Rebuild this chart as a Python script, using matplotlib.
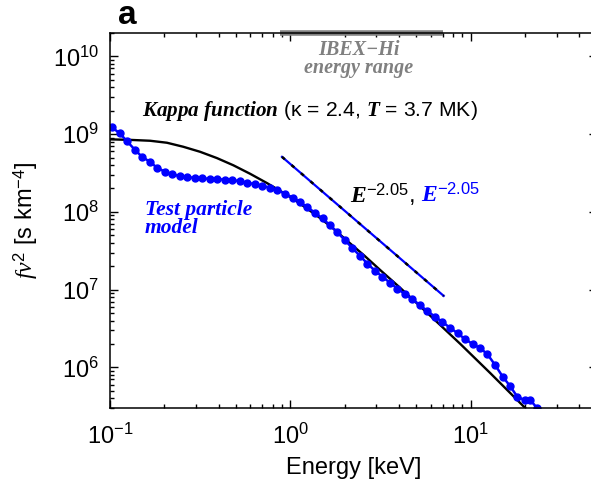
import numpy as np
import matplotlib
matplotlib.use('Agg')
import matplotlib.pyplot as plt
from matplotlib.ticker import FuncFormatter, LogLocator, NullFormatter
import matplotlib.transforms as mtransforms

plt.rcParams['font.family'] = ['Liberation Sans', 'DejaVu Sans']
plt.rcParams['mathtext.fontset'] = 'custom'
plt.rcParams['mathtext.rm'] = 'Liberation Sans'
plt.rcParams['mathtext.it'] = 'Liberation Serif:italic'
plt.rcParams['mathtext.bf'] = 'Liberation Serif:italic:bold'

# Kappa function (black)
kappa_E = [0.1, 0.129, 0.167, 0.207, 0.255, 0.316, 0.392, 0.484, 0.599, 0.742, 0.88,
           1.05, 1.24, 1.47, 1.74, 2.10, 2.58, 3.16, 4.08, 5.27, 6.81, 8.8, 12.9, 20.2, 24.5]
kappa_f = [8.57e8, 8.44e8, 8.22e8, 7.75e8, 6.88e8, 5.93e8, 4.92e8, 3.97e8, 3.09e8, 2.35e8, 1.86e8,
           1.44e8, 1.10e8, 8.27e7, 6.04e7, 4.12e7, 2.73e7, 1.78e7, 1.05e7, 6.06e6, 3.48e6, 1.99e6,
           8.39e5, 2.97e5, 1.89e5]

# test particle model (blue dots)
tp_E = [0.1026, 0.113, 0.124, 0.137, 0.151, 0.166, 0.182, 0.201, 0.221, 0.243,
        0.268, 0.295, 0.324, 0.357, 0.393, 0.432, 0.476, 0.524, 0.577, 0.635,
        0.699, 0.769, 0.847, 0.932, 1.03, 1.13, 1.24, 1.37, 1.51, 1.66,
        1.82, 2.01, 2.21, 2.43, 2.68, 2.95, 3.24, 3.57, 3.93, 4.33,
        4.76, 5.24, 5.77, 6.35, 6.99, 7.69, 8.47, 9.32, 10.3, 11.3,
        12.4, 13.7, 15.1, 16.6, 18.2, 20.1, 21.5, 23.5]
tp_f = [1.22e9, 1.03e9, 8.15e8, 6.34e8, 5.07e8, 4.44e8, 3.71e8, 3.30e8, 3.05e8, 2.89e8,
        2.80e8, 2.74e8, 2.69e8, 2.67e8, 2.64e8, 2.60e8, 2.56e8, 2.49e8, 2.37e8, 2.28e8,
        2.17e8, 2.05e8, 1.91e8, 1.72e8, 1.53e8, 1.34e8, 1.15e8, 9.79e7, 8.22e7, 6.76e7,
        5.49e7, 4.33e7, 3.42e7, 2.74e7, 2.16e7, 1.75e7, 1.47e7, 1.23e7, 1.03e7, 8.75e6,
        7.54e6, 6.31e6, 5.28e6, 4.49e6, 3.82e6, 3.24e6, 2.75e6, 2.31e6, 1.99e6, 1.77e6,
        1.48e6, 1.07e6, 7.58e5, 5.72e5, 4.17e5, 3.78e5, 3.78e5, 2.96e5]

# power-law fit lines (endpoints)
fit_E = [0.9, 7.1]
fit_f = [5.1e8, 8.3e6]

ibex_range = [0.88, 7.08]

fig = plt.figure(figsize=(5.91, 4.84), dpi=100)
ax = fig.add_axes([110/591, 76/484, 486.5/591, 375/484])

ax.plot(kappa_E, kappa_f, color='black', lw=1.7)
ax.plot(tp_E, tp_f, color='blue', lw=1.8, marker='o', ms=5, mec='blue', mfc='blue')
ax.plot(fit_E, fit_f, color='blue', lw=1.6)
ax.plot(fit_E, fit_f, color='black', lw=1.8, ls=(0, (1.5, 3.5)))

ax.set_xscale('log')
ax.set_yscale('log')
ax.set_xlim(0.1, 50)
ax.set_ylim(3e5, 2e10)

fmt = FuncFormatter(lambda v, p: r'$\mathrm{10^{%d}}$' % round(np.log10(v)))
ax.xaxis.set_major_formatter(fmt)
ax.yaxis.set_major_formatter(fmt)
ax.yaxis.set_major_locator(LogLocator(base=10, numticks=20))
ax.yaxis.set_minor_locator(LogLocator(base=10, subs=np.arange(2, 10), numticks=20))
ax.yaxis.set_minor_formatter(NullFormatter())
ax.xaxis.set_minor_formatter(NullFormatter())
ax.tick_params(which='both', direction='in', top=True, right=True, width=1)
ax.tick_params(which='major', length=6, labelsize=17)
ax.tick_params(axis='x', which='major', pad=11)
ax.tick_params(axis='y', which='major', pad=8)
ax.tick_params(which='minor', length=3)
for s in ax.spines.values():
    s.set_linewidth(1.1)

ax.set_xlabel('Energy [keV]', fontsize=17, labelpad=6)
ax.set_ylabel(r'$fv^{\mathrm{2}}$ [s km$^{-4}$]', fontsize=17, labelpad=9)

# IBEX-Hi energy range bar on the top axis
trans = mtransforms.blended_transform_factory(ax.transData, ax.transAxes)
ax.plot(ibex_range, [1, 1], color='gray', lw=4, transform=trans, clip_on=False, solid_capstyle='butt')


def px(x, y):
    return x / 591, 1 - y / 484


fig.text(*px(118, 15), 'a', fontsize=24, fontweight='bold', va='center', ha='left')
fig.text(*px(359, 59), 'IBEX\u2212Hi\nenergy range', fontsize=14.5, color='gray',
         family='Liberation Serif', style='italic', weight='bold',
         ha='center', va='center', multialignment='center', linespacing=0.9)
fig.text(*px(142, 111), r'$\mathbf{Kappa\ function}$ (κ = 2.4, $\mathbf{T}$ = 3.7 MK)',
         fontsize=15.2, ha='left', va='center')
fig.text(*px(145, 219), 'Test particle\nmodel', fontsize=15.5, color='blue', family='Liberation Serif',
         style='italic', weight='bold', ha='left', va='center', linespacing=0.85)
fig.text(*px(350, 195), r'$\mathbf{E}^{\mathrm{-2.05}}$,', fontsize=17, ha='left', va='center')
fig.text(*px(421, 195), r'$\mathbf{E}^{\mathrm{-2.05}}$', fontsize=17, color='blue', ha='left', va='center')

fig.savefig('out.png', dpi=100)
